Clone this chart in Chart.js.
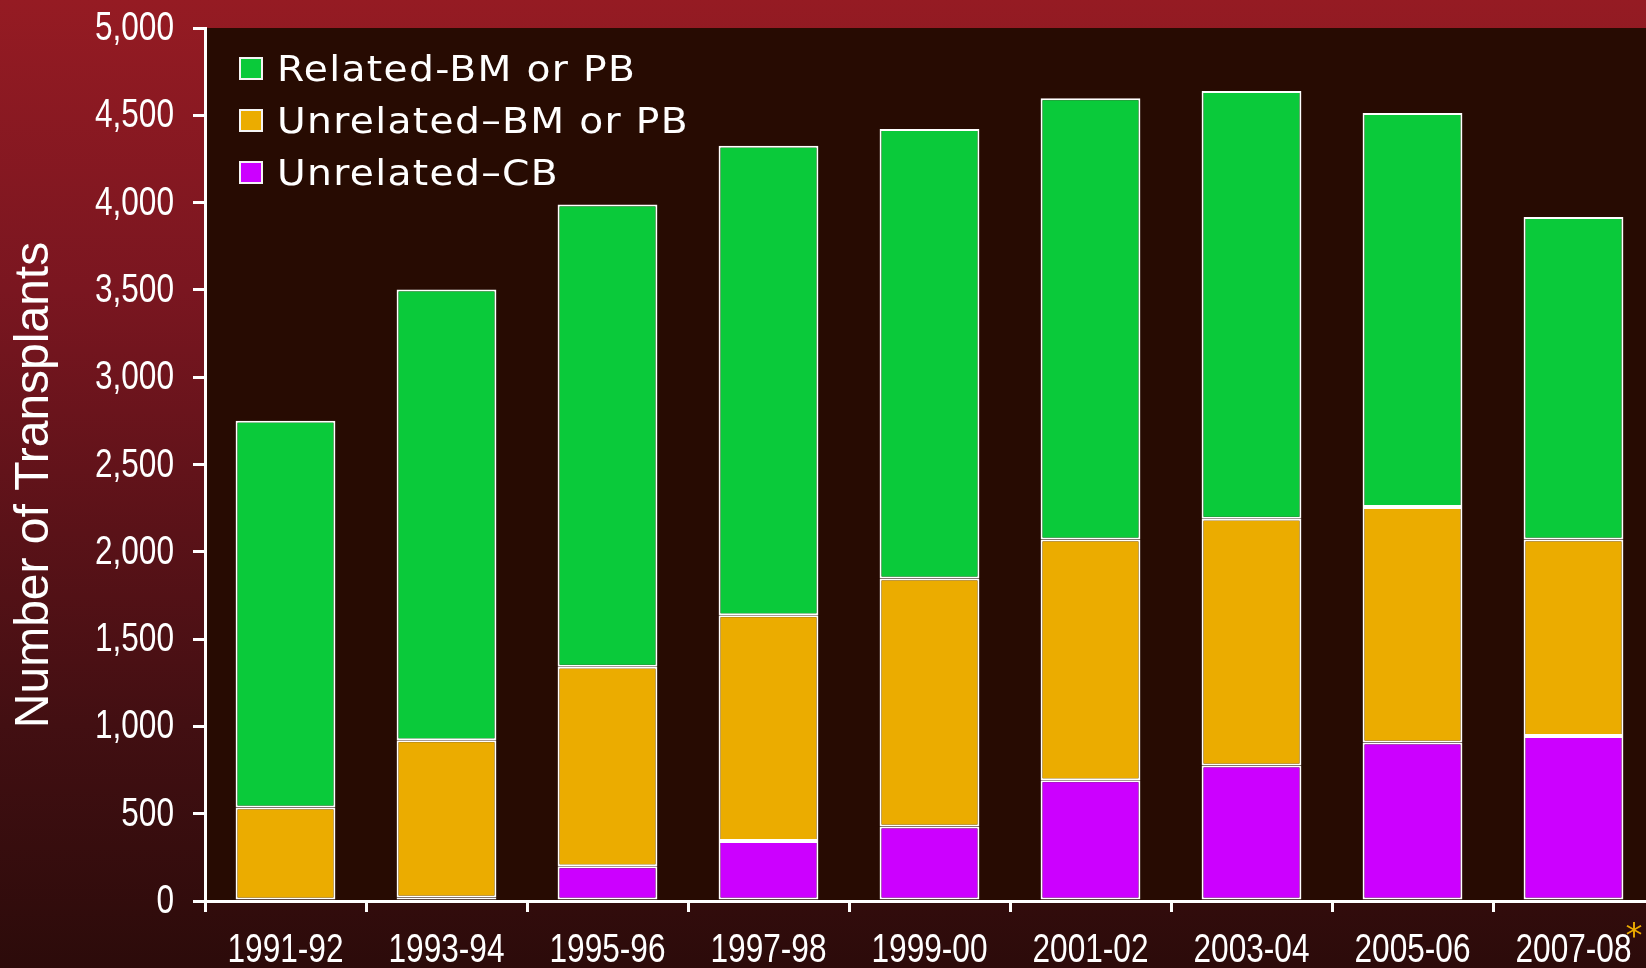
<!DOCTYPE html>
<html>
<head>
<meta charset="utf-8">
<script src="https://cdn.jsdelivr.net/npm/chart.js@4.4.1/dist/chart.umd.min.js"></script>
<style>
  html, body { margin: 0; padding: 0; width: 1646px; height: 968px; overflow: hidden; }
  body { background: linear-gradient(to bottom, #951b23 0%, #7a1620 30%, #5a1218 55%, #420f12 75%, #2c0b0a 100%); position: relative; }
  #c { position: absolute; left: 0; top: 0; }
  #legend { position: absolute; left: 239px; top: 43px; color: #fff; font-family: "DejaVu Sans", Verdana, sans-serif; font-size: 36px; letter-spacing: 1.2px; }
  #legend .row { display: flex; align-items: center; height: 51.7px; white-space: nowrap; }
  #legend .box { width: 24px; height: 23px; box-sizing: border-box; border: 2px solid #f4f4f4; margin-right: 14px; flex: none; }
  #legend .txt { display: inline-block; transform: scaleX(1.09); transform-origin: left center; }
</style>
</head>
<body>
<canvas id="c" width="1654" height="968"></canvas>
<div id="legend"></div>
<script>
const categories = ['1991-92','1993-94','1995-96','1997-98','1999-00','2001-02','2003-04','2005-06','2007-08'];
const unrelatedCbValues = [0, 20, 199, 343, 427, 692, 776, 908, 945];
const unrelatedBmPbValues = [535, 900, 1143, 1294, 1420, 1378, 1414, 1348, 1125];
const relatedBmPbValues = [2215, 2582, 2647, 2689, 2575, 2527, 2449, 2257, 1847];
const yTickValues = [0, 500, 1000, 1500, 2000, 2500, 3000, 3500, 4000, 4500, 5000];
const seriesLabels = ['Unrelated\u2013CB', 'Unrelated\u2013BM or PB', 'Related-BM or PB'];
const seriesColors = ['#cc00ff', '#ebac00', '#0aca3a'];
const yTitle = 'Number of Transplants';
const footnoteMark = '*';

const seriesValues = [unrelatedCbValues, unrelatedBmPbValues, relatedBmPbValues];
const TICK_FONT = '40px "Liberation Sans", Arial, sans-serif';
const TICK_SX = 0.79;

const decorPlugin = {
  id: 'decor',
  beforeDraw(chart) {
    const a = chart.chartArea, ctx = chart.ctx;
    ctx.save();
    ctx.fillStyle = '#270b02';
    ctx.fillRect(a.left, a.top, a.right - a.left, a.bottom - a.top);
    ctx.restore();
  },
  afterDraw(chart) {
    const ctx = chart.ctx;
    const xs = chart.scales.x, ys = chart.scales.y;
    ctx.save();
    ctx.fillStyle = '#ffffff';
    ctx.font = TICK_FONT;
    // y tick labels (condensed), positioned by the y scale
    ctx.textAlign = 'right';
    ctx.textBaseline = 'middle';
    yTickValues.forEach(v => {
      const y = ys.getPixelForValue(v);
      ctx.save();
      ctx.translate(174, y + 1);
      ctx.scale(TICK_SX, 1);
      ctx.fillText(v.toLocaleString('en-US'), 0, 0);
      ctx.restore();
    });
    // x tick labels (condensed), positioned by the x scale
    ctx.textAlign = 'center';
    ctx.textBaseline = 'alphabetic';
    categories.forEach((c, i) => {
      const x = xs.getPixelForValue(i);
      ctx.save();
      ctx.translate(x, 962);
      ctx.scale(TICK_SX, 1);
      ctx.fillText(c, 0, 0);
      ctx.restore();
    });
    // footnote asterisk after the last category label
    const last = categories.length - 1;
    const lw = ctx.measureText(categories[last]).width * TICK_SX;
    ctx.font = '34px "DejaVu Sans", Verdana, sans-serif';
    ctx.fillStyle = '#ecab00';
    ctx.textAlign = 'left';
    ctx.fillText(footnoteMark, xs.getPixelForValue(last) + lw / 2 - 6, 947);
    // y axis title
    ctx.translate(35, 485);
    ctx.rotate(-Math.PI / 2);
    ctx.font = '48px "Liberation Sans", Arial, sans-serif';
    ctx.fillStyle = '#ffffff';
    ctx.textAlign = 'center';
    ctx.textBaseline = 'middle';
    ctx.fillText(yTitle, 0, 0);
    ctx.restore();
  }
};

const datasets = seriesValues.map((vals, i) => ({
  label: seriesLabels[i],
  data: vals,
  backgroundColor: seriesColors[i],
  borderColor: '#ffffff',
  borderWidth: 2,
  borderSkipped: false,
  categoryPercentage: 1.0,
  barPercentage: 0.62
}));

new Chart(document.getElementById('c'), {
  type: 'bar',
  data: { labels: categories, datasets },
  options: {
    responsive: false,
    animation: false,
    devicePixelRatio: 1,
    layout: { padding: { top: 28, right: 0, left: 0, bottom: 0 } },
    plugins: { legend: { display: false }, tooltip: { enabled: false } },
    scales: {
      x: {
        stacked: true,
        afterFit(s) { s.height = 67; },
        grid: { display: true, drawOnChartArea: false, drawTicks: true, tickLength: 11, color: '#ffffff', lineWidth: 3, offset: true },
        border: { display: true, color: '#ffffff', width: 3 },
        ticks: { display: false, autoSkip: false }
      },
      y: {
        stacked: true,
        min: 0, max: 5000,
        afterFit(s) { s.width = 205; },
        afterBuildTicks(s) { s.ticks = yTickValues.map(v => ({ value: v })); },
        grid: { display: true, drawOnChartArea: false, drawTicks: true, tickLength: 12, color: '#ffffff', lineWidth: 3 },
        border: { display: true, color: '#ffffff', width: 3 },
        ticks: { display: false }
      }
    }
  },
  plugins: [decorPlugin]
});

// Legend (top-to-bottom order reversed from stacking order)
const legend = document.getElementById('legend');
for (let i = seriesLabels.length - 1; i >= 0; i--) {
  const row = document.createElement('div');
  row.className = 'row';
  const box = document.createElement('span');
  box.className = 'box';
  box.style.background = seriesColors[i];
  const txt = document.createElement('span');
  txt.className = 'txt';
  txt.textContent = seriesLabels[i];
  row.appendChild(box); row.appendChild(txt);
  legend.appendChild(row);
}
</script>
</body>
</html>
